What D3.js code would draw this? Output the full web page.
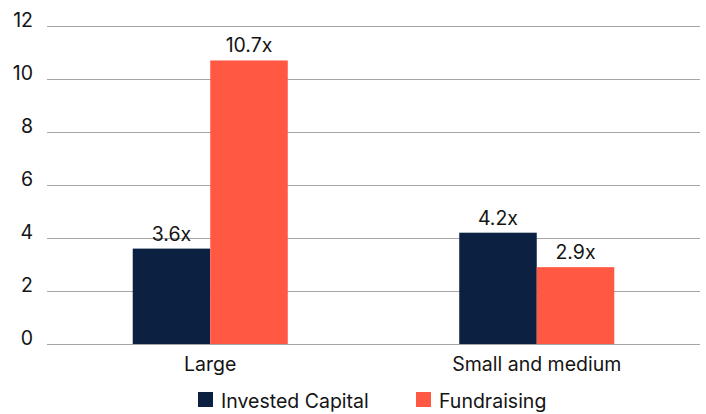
<!DOCTYPE html>
<html><head><meta charset="utf-8">
<script src="https://cdn.jsdelivr.net/npm/d3@7"></script>
<style>body{margin:0;background:#fff;} text{font-family:"Inter","Noto Sans",sans-serif;fill:#141414;}</style>
</head><body>
<svg id="c" width="706" height="414"></svg>
<script>
const categories = ["Large", "Small and medium"];
const seriesNames = ["Invested Capital", "Fundraising"];
const investedCapital = [3.6, 4.2];
const fundraising = [10.7, 2.9];
const yTicks = [0, 2, 4, 6, 8, 10, 12];
const colors = ["#0c2142", "#ff5843"];

const svg = d3.select("#c");
const m = {left: 47, right: 6, top: 26, bottom: 70};
const W = 706, H = 414;
const FS = 19.5;
const x0 = d3.scaleBand().domain(categories).range([m.left, W - m.right]).paddingInner(0).paddingOuter(0);
const x1 = d3.scaleBand().domain(seriesNames).range([0, x0.bandwidth()]).paddingInner(0).paddingOuter(1.106);
const y = d3.scaleLinear().domain([0, 12]).range([H - m.bottom, m.top]);

svg.append("g").selectAll("line").data(yTicks).join("line")
  .attr("x1", m.left).attr("x2", W - m.right)
  .attr("y1", d => Math.round(y(d)) + 0.5).attr("y2", d => Math.round(y(d)) + 0.5)
  .attr("stroke", "#a6a6a6").attr("stroke-width", 1);

svg.append("g").selectAll("text").data(yTicks).join("text")
  .attr("x", 33).attr("y", d => y(d) + 1)
  .attr("text-anchor", "end").attr("font-size", FS).text(d => d);

const data = categories.map((c, i) => ({cat: c, vals: [investedCapital[i], fundraising[i]]}));
const g = svg.append("g").selectAll("g").data(data).join("g")
  .attr("transform", d => `translate(${x0(d.cat)},0)`);
g.selectAll("rect").data(d => d.vals.map((v, j) => ({s: seriesNames[j], v, j}))).join("rect")
  .attr("x", d => x1(d.s)).attr("width", x1.bandwidth())
  .attr("y", d => y(d.v)).attr("height", d => y(0) - y(d.v))
  .attr("fill", d => colors[d.j]);
g.selectAll("text").data(d => d.vals.map((v, j) => ({s: seriesNames[j], v, j}))).join("text")
  .attr("x", d => x1(d.s) + x1.bandwidth() / 2).attr("y", d => y(d.v) - 8)
  .attr("text-anchor", "middle").attr("font-size", FS).text(d => d.v.toFixed(1) + "x");

svg.append("g").selectAll("text").data(categories).join("text")
  .attr("x", d => x0(d) + x0.bandwidth() / 2).attr("y", 371)
  .attr("text-anchor", "middle").attr("font-size", FS).text(d => d);

const legX = [198, 416];
const lg = svg.append("g").selectAll("g").data(seriesNames).join("g")
  .attr("transform", (d, i) => `translate(${legX[i]},392)`);
lg.append("rect").attr("width", 15).attr("height", 15).attr("fill", (d, i) => colors[i]);
lg.append("text").attr("x", 23).attr("y", 16).attr("font-size", FS).text(d => d);
</script>
</body></html>
